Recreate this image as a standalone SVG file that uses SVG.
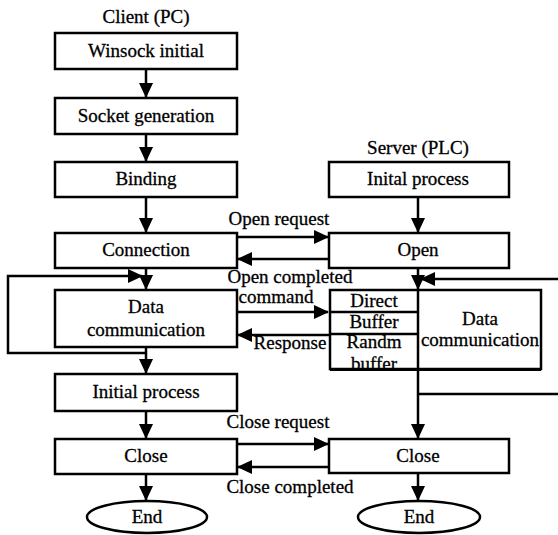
<svg xmlns="http://www.w3.org/2000/svg" width="558" height="535" viewBox="0 0 558 535">
<defs>
<marker id="ah" markerUnits="userSpaceOnUse" markerWidth="15" markerHeight="14" refX="14" refY="7" orient="auto">
<path d="M0,0 L15,7 L0,14 z" fill="#000"/>
</marker>
<style>
text{font-family:'Liberation Serif','Times New Roman',serif;font-size:19px;fill:#000;stroke:#000;stroke-width:0.3;text-anchor:middle}
.box{fill:#fff;stroke:#000;stroke-width:2.5}
.ln{fill:none;stroke:#000;stroke-width:2.5}
.ar{fill:none;stroke:#000;stroke-width:2.5;marker-end:url(#ah)}
</style>
</defs>
<rect width="558" height="535" fill="#fff"/>
<text x="146" y="23">Client (PC)</text>
<text x="418" y="154">Server (PLC)</text>
<g id="connectors">
<line class="ar" x1="146" y1="69" x2="146" y2="97"/>
<line class="ar" x1="146" y1="134" x2="146" y2="161"/>
<line class="ar" x1="146" y1="197" x2="146" y2="232"/>
<line class="ar" x1="146" y1="268" x2="146" y2="289"/>
<path class="ar" d="M146,353 H8 V276 H142"/>
<line class="ar" x1="146" y1="347" x2="146" y2="373"/>
<line class="ar" x1="146" y1="411" x2="146" y2="438"/>
<line class="ar" x1="146" y1="474" x2="146" y2="500"/>
<line class="ar" x1="418" y1="197" x2="418" y2="232"/>
<line class="ar" x1="418" y1="268" x2="418" y2="289"/>
<line class="ar" x1="418" y1="369" x2="418" y2="438"/>
<line class="ar" x1="418" y1="473" x2="418" y2="500"/>
<line class="ln" x1="418" y1="289" x2="418" y2="369"/>
<line class="ar" x1="558" y1="279" x2="421" y2="279"/>
<line class="ln" x1="418" y1="394" x2="558" y2="394"/>
<line class="ar" x1="237" y1="237" x2="328" y2="237"/>
<line class="ar" x1="330" y1="259" x2="238" y2="259"/>
<line class="ar" x1="237" y1="312" x2="328" y2="312"/>
<line class="ar" x1="330" y1="335" x2="238" y2="335"/>
<line class="ar" x1="237" y1="444" x2="328" y2="444"/>
<line class="ar" x1="330" y1="467" x2="238" y2="467"/>
<text x="279" y="225">Open request</text>
<text x="290" y="283">Open completed</text>
<text x="276" y="303">command</text>
<text x="290" y="349">Response</text>
<text x="278" y="428">Close request</text>
<text x="290" y="493">Close completed</text>
</g>
<g id="winsock"><rect class="box" x="55" y="33" width="182" height="36"/><text x="146" y="57">Winsock initial</text></g>
<g id="socket"><rect class="box" x="55" y="98" width="182" height="36"/><text x="146" y="122">Socket generation</text></g>
<g id="binding"><rect class="box" x="55" y="162" width="182" height="35"/><text x="146" y="185">Binding</text></g>
<g id="connection"><rect class="box" x="55" y="233" width="182" height="35"/><text x="146" y="256">Connection</text></g>
<g id="datacomm-client"><rect class="box" x="55" y="290" width="182" height="57"/><text x="146" y="313">Data</text><text x="146" y="336">communication</text></g>
<g id="initial-client"><rect class="box" x="55" y="374" width="182" height="37"/><text x="146" y="398">Initial process</text></g>
<g id="close-client"><rect class="box" x="55" y="439" width="182" height="35"/><text x="146" y="462">Close</text></g>
<g id="end-client"><ellipse class="box" cx="147" cy="517" rx="60" ry="16"/><text x="147" y="523">End</text></g>
<g id="initial-server"><rect class="box" x="329" y="162" width="180" height="35"/><text x="418" y="185">Inital process</text></g>
<g id="open"><rect class="box" x="329" y="233" width="180" height="35"/><text x="418" y="256">Open</text></g>
<g id="datacomm-server">
<rect class="box" x="330" y="290" width="211" height="79"/>
<line class="ln" x1="418" y1="290" x2="418" y2="369"/>
<line class="ln" x1="330" y1="312" x2="418" y2="312"/>
<line class="ln" x1="330" y1="334" x2="418" y2="334"/>
<text x="374" y="307">Direct</text>
<text x="374" y="328">Buffer</text>
<text x="374" y="348">Randm</text>
<text x="374" y="370">buffer</text>
<rect x="330" y="368" width="211" height="3" fill="#000"/>
<text x="480" y="325">Data</text>
<text x="480" y="346">communication</text>
</g>
<g id="close-server"><rect class="box" x="329" y="439" width="180" height="34"/><text x="418" y="462">Close</text></g>
<g id="end-server"><ellipse class="box" cx="419" cy="517" rx="61" ry="16"/><text x="419" y="523">End</text></g>
</svg>
